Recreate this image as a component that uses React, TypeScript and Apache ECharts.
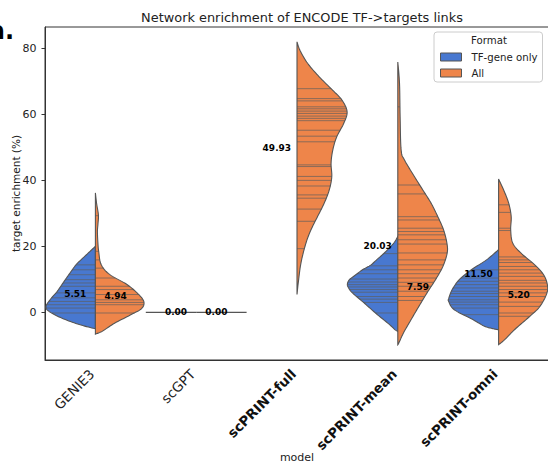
import React, { useEffect, useRef } from 'react';
import * as echarts from 'echarts';

// ---------- data ----------
const models = ['GENIE3', 'scGPT', 'scPRINT-full', 'scPRINT-mean', 'scPRINT-omni'];
const formats = ['TF-gene only', 'All'];
const yTicks = [0, 20, 40, 60, 80];

// violin density profiles: [value, half-width in category units], top to bottom
const genie3Tf = [[20.0, 0], [18.0, 0.07], [16.0, 0.14], [14.5, 0.19], [12.0, 0.25], [9.4, 0.31], [6.3, 0.38], [4.2, 0.44], [1.8, 0.49], [0.3, 0.46], [-1.8, 0.33], [-3.7, 0.16], [-5.0, 0]];
const genie3All = [[36.2, 0], [33.0, 0.012], [29.5, 0.03], [27.0, 0.026], [24.5, 0.02], [21.0, 0.025], [18.4, 0.033], [14.5, 0.057], [11.5, 0.14], [8.5, 0.31], [5.7, 0.42], [3.3, 0.48], [1.2, 0.46], [-0.6, 0.36], [-3.3, 0.19], [-5.7, 0.07], [-6.6, 0]];
const fullAll = [[82.0, 0], [79.4, 0.03], [75.5, 0.105], [71.4, 0.22], [67.3, 0.355], [64.3, 0.447], [60.8, 0.497], [57.3, 0.464], [53.2, 0.394], [49.2, 0.355], [45.2, 0.338], [41.1, 0.345], [37.1, 0.32], [33.1, 0.27], [29.1, 0.205], [25.1, 0.14], [21.1, 0.09], [15.1, 0.04], [9.1, 0.013], [5.4, 0]];
const meanTf = [[23.0, 0], [21.0, 0.04], [18.4, 0.12], [15.9, 0.21], [14.3, 0.27], [12.9, 0.35], [11.3, 0.42], [9.9, 0.48], [8.6, 0.5], [7.5, 0.49], [5.9, 0.45], [3.0, 0.34], [-0.5, 0.21], [-3.5, 0.09], [-5.2, 0.03], [-5.8, 0]];
const meanAll = [[75.9, 0], [69.4, 0.017], [59.3, 0.023], [49.2, 0.033], [46.2, 0.066], [41.1, 0.166], [37.1, 0.248], [33.1, 0.33], [29.0, 0.397], [25.0, 0.454], [21.0, 0.487], [18.0, 0.49], [13.9, 0.447], [9.9, 0.374], [5.9, 0.29], [1.8, 0.209], [-2.2, 0.132], [-6.2, 0.057], [-9.3, 0.01], [-9.8, 0]];
const omniTf = [[19.0, 0], [15.9, 0.12], [12.9, 0.27], [9.9, 0.39], [6.9, 0.46], [4.2, 0.495], [3.3, 0.495], [0.8, 0.44], [-2.2, 0.255], [-4.2, 0.14], [-5.0, 0.05], [-5.3, 0]];
const omniAll = [[40.4, 0], [37.1, 0.05], [33.1, 0.1], [29.0, 0.125], [25.0, 0.12], [21.0, 0.14], [18.0, 0.22], [14.9, 0.34], [11.9, 0.435], [8.9, 0.48], [5.9, 0.48], [1.8, 0.41], [-1.2, 0.31], [-5.2, 0.16], [-8.3, 0.06], [-9.8, 0]];

// individual observations (inner sticks)
const genie3TfObs = [14.4, 12.9, 11.4, 9.9, 8.9, 7.9, 5.9, 4.4, 3.3, 2.3, 1.3, -0.2];
const genie3AllObs = [29.3, 18.5, 15.9, 13.4, 10.4, 7.9, 6.9, 5.4, 3.8, 3.0, 2.3, -0.2];
const scgptTfObs = [0, 0, 0];
const scgptAllObs = [0, 0, 0];
const fullAllObs = [67.8, 64.8, 64.1, 62.3, 61.7, 61.0, 60.3, 59.5, 58.8, 58.1, 55.2, 53.4, 51.7, 44.7, 44.2, 41.2, 40.0, 38.3, 35.6, 34.6, 31.3, 27.6, 19.3];
const meanTfObs = [17.8, 14.1, 12.9, 11.7, 10.1, 9.2, 8.4, 7.7, 6.9, 6.1, 4.8, 4.0, 3.0, -0.2];
const meanAllObs = [62.3, 38.6, 35.9, 29.0, 28.0, 25.5, 24.5, 23.5, 22.0, 20.7, 18.0, 15.9, 14.4, 12.9, 11.7, 10.4, 9.1, 7.9, 6.4, 4.8, 3.6];
const omniTfObs = [12.9, 10.4, 9.4, 8.4, 7.4, 6.4, 5.7, 4.8, 3.8, 3.1, 2.3, 1.3, -0.7];
const omniAllObs = [32.6, 30.3, 25.5, 24.8, 16.8, 15.9, 15.1, 13.9, 12.9, 11.9, 10.9, 9.7, 8.9, 7.9, 6.9, 5.9, 4.8, 3.1, 1.8, -0.2, -1.2];

// annotated means (left / right of each violin)
const annotLeft = [5.51, 0.0, 49.93, 20.03, 11.5];
const annotRight = [4.94, 0.0, null, 7.59, 5.2];

const profilesTf = [genie3Tf, [], [], meanTf, omniTf];
const profilesAll = [genie3All, [], fullAll, meanAll, omniAll];
const obsTf = [genie3TfObs, scgptTfObs, [], meanTfObs, omniTfObs];
const obsAll = [genie3AllObs, scgptAllObs, fullAllObs, meanAllObs, omniAllObs];

// ---------- styles ----------
const COLORS = ['#4878d0', '#ee854a'];
const EDGE = '#555555';
const FONT = 'DejaVu Sans';

function spline(pts: number[][], steps = 10): number[][] {
  const out: number[][] = [];
  const n = pts.length;
  for (let k = 0; k < n - 1; k++) {
    const p0 = pts[Math.max(0, k - 1)];
    const p1 = pts[k];
    const p2 = pts[k + 1];
    const p3 = pts[Math.min(n - 1, k + 2)];
    for (let s = 0; s < steps; s++) {
      const t = s / steps;
      const t2 = t * t;
      const t3 = t2 * t;
      const f = (a: number, b: number, c: number, d: number) =>
        0.5 * (2 * b + (-a + c) * t + (2 * a - 5 * b + 4 * c - d) * t2 + (-a + 3 * b - 3 * c + d) * t3);
      out.push([f(p0[0], p1[0], p2[0], p3[0]), f(p0[1], p1[1], p2[1], p3[1])]);
    }
  }
  out.push(pts[n - 1]);
  return out;
}

function xAt(curve: number[][], py: number, cx: number): number {
  for (let k = 0; k < curve.length - 1; k++) {
    const a = curve[k];
    const b = curve[k + 1];
    if ((a[1] <= py && py <= b[1]) || (b[1] <= py && py <= a[1])) {
      const d = b[1] - a[1];
      const t = d === 0 ? 0 : (py - a[1]) / d;
      return a[0] + (b[0] - a[0]) * t;
    }
  }
  return cx;
}

function makeRender(side: number, profiles: number[][][], obs: number[][], color: string) {
  return (params: any, api: any) => {
    const i = api.value(0);
    const band = api.size([1, 0])[0];
    const cx = api.coord([i, 0])[0];
    const prof = profiles[i];
    const st = obs[i];
    const children: any[] = [];
    if (prof && prof.length) {
      const pts = prof.map(([v, w]) => [cx + side * w * band, api.coord([i, v])[1]]);
      const curve = spline(pts, 10).map(([x, y]) => [side > 0 ? Math.max(cx, x) : Math.min(cx, x), y]);
      children.push({
        type: 'polygon',
        shape: { points: curve },
        style: { fill: color, stroke: null },
      });
      st.forEach((v) => {
        const py = api.coord([i, v])[1];
        const x = xAt(curve, py, cx);
        children.push({
          type: 'line',
          shape: { x1: cx, y1: py, x2: x, y2: py },
          style: { stroke: '#5e5e5e', lineWidth: 0.8, opacity: 0.85 },
        });
      });
      children.push({
        type: 'polygon',
        shape: { points: curve },
        style: { fill: null, stroke: EDGE, lineWidth: 1.1 },
      });
    } else if (st && st.length) {
      const py = api.coord([i, st[0]])[1];
      children.push({
        type: 'line',
        shape: { x1: cx, y1: py, x2: cx + side * 0.5 * band, y2: py },
        style: { stroke: EDGE, lineWidth: 1.4 },
      });
    }
    return { type: 'group', children };
  };
}

function renderLabels(params: any, api: any) {
  const i = api.value(0);
  const band = api.size([1, 0])[0];
  const cx = api.coord([i, 0])[0];
  const children: any[] = [];
  const mk = (v: number | null, dx: number) => {
    if (v === null || v === undefined) return;
    const py = api.coord([i, v])[1];
    children.push({
      type: 'text',
      x: cx + dx * band,
      y: py,
      style: {
        text: v.toFixed(2),
        fontSize: 9,
        fontWeight: 'bold',
        fontFamily: FONT,
        fill: '#000',
        align: 'center',
        verticalAlign: 'middle',
        textAlign: 'center',
        textVerticalAlign: 'middle',
      },
    });
  };
  mk(annotLeft[i], -0.2);
  mk(annotRight[i], 0.2);
  return { type: 'group', children };
}

export default function App() {
  const ref = useRef<HTMLDivElement>(null);
  useEffect(() => {
    document.body.style.margin = '0';
    if (!ref.current) return;
    const chart = echarts.init(ref.current, undefined, { renderer: 'svg' });
    const idxData = models.map((_, i) => [i]);
    const option: any = {
      animation: false,
      color: COLORS,
      title: {
        text: 'Network enrichment of ENCODE TF->targets links',
        left: 297,
        top: 6,
        textAlign: 'center',
        textStyle: { fontSize: 12.9, fontWeight: 'normal', color: '#222', fontFamily: FONT },
      },
      grid: {
        left: 45,
        top: 27,
        width: 504,
        height: 333,
        containLabel: false,
        outerBoundsMode: 'none',
        show: true,
        borderColor: '#333',
        borderWidth: 1,
        backgroundColor: 'transparent',
      },
      legend: {
        orient: 'vertical',
        left: 434,
        top: 32,
        padding: [18, 5, 2, 6],
        itemGap: 2,
        itemWidth: 21,
        itemHeight: 8,
        icon: 'rect',
        borderColor: '#cccccc',
        borderWidth: 1,
        borderRadius: 3,
        backgroundColor: 'rgba(255,255,255,0.85)',
        data: [
          { name: formats[0], itemStyle: { color: COLORS[0], borderColor: EDGE, borderWidth: 1 } },
          { name: formats[1], itemStyle: { color: COLORS[1], borderColor: EDGE, borderWidth: 1 } },
        ],
        textStyle: { fontSize: 10.2, lineHeight: 14, color: '#222', fontFamily: FONT, padding: [0, 0, 0, 5] },
      },
      graphic: [
        {
          type: 'text',
          x: 489,
          y: 40,
          style: {
            text: 'Format',
            fontSize: 10.2,
            fill: '#222',
            fontFamily: FONT,
            align: 'center',
            verticalAlign: 'middle',
            textAlign: 'center',
            textVerticalAlign: 'middle',
          },
          z: 100,
        },
        {
          type: 'text',
          x: 14,
          y: 43,
          style: {
            text: 'a.',
            fontSize: 24,
            fontWeight: 'bold',
            fill: '#000',
            fontFamily: FONT,
            align: 'right',
            verticalAlign: 'bottom',
            textAlign: 'right',
            textVerticalAlign: 'bottom',
          },
        },
      ],
      xAxis: {
        type: 'category',
        data: models,
        boundaryGap: true,
        axisLine: { onZero: false, lineStyle: { color: '#333', width: 1 } },
        axisTick: { alignWithLabel: true, length: 3.5, lineStyle: { color: '#333' } },
        axisLabel: {
          rotate: 45,
          margin: 8,
          interval: 0,
          fontSize: 13.5,
          fontFamily: FONT,
          color: '#222',
          formatter: (v: string) => (v.startsWith('scPRINT') ? `{b|${v}}` : `{n|${v}}`),
          rich: {
            b: { fontSize: 13.5, fontWeight: 'bold', color: '#111', fontFamily: FONT, padding: [0, 5, 0, 0] },
            n: { fontSize: 13.5, color: '#222', fontFamily: FONT, padding: [0, 5, 0, 0] },
          },
        },
        splitLine: { show: false },
        name: 'model',
        nameLocation: 'middle',
        nameGap: 92,
        nameMoveOverlap: false,
        nameTextStyle: { fontSize: 11, color: '#222', fontFamily: FONT },
      },
      yAxis: {
        type: 'value',
        min: -14.45,
        max: 86.5,
        axisLine: { show: true, onZero: false, lineStyle: { color: '#333', width: 1 } },
        axisTick: { show: true, length: 3.5, customValues: yTicks, lineStyle: { color: '#333' } },
        axisLabel: { customValues: yTicks, fontSize: 11, color: '#222', margin: 8.5, fontFamily: FONT },
        splitLine: { show: false },
        name: 'target enrichment (%)',
        nameLocation: 'middle',
        nameGap: 24,
        nameMoveOverlap: false,
        nameTextStyle: { fontSize: 10.5, color: '#222', fontFamily: FONT },
      },
      series: [
        {
          name: formats[0],
          type: 'custom',
          renderItem: makeRender(-1, profilesTf, obsTf, COLORS[0]),
          data: idxData,
          itemStyle: { color: COLORS[0] },
          encode: { x: 0 },
          z: 2,
        },
        {
          name: formats[1],
          type: 'custom',
          renderItem: makeRender(1, profilesAll, obsAll, COLORS[1]),
          data: idxData,
          itemStyle: { color: COLORS[1] },
          encode: { x: 0 },
          z: 2,
        },
        {
          name: 'means',
          type: 'custom',
          renderItem: renderLabels,
          data: idxData,
          encode: { x: 0 },
          z: 5,
        },
      ],
    };
    chart.setOption(option);
    return () => chart.dispose();
  }, []);
  return <div ref={ref} style={{ width: 548, height: 464 }} />;
}
